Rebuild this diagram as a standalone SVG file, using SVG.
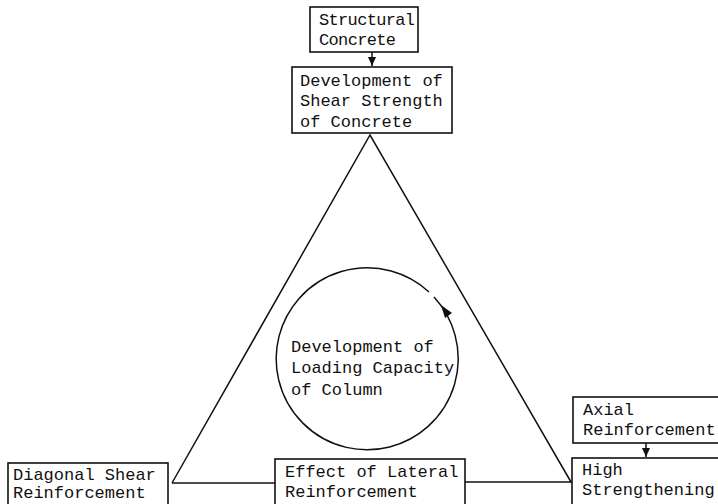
<svg xmlns="http://www.w3.org/2000/svg" width="718" height="504" viewBox="0 0 718 504">
<style>
.box{fill:#fff;stroke:#111;stroke-width:1.6}
.t{font-family:"Liberation Mono","Courier New",monospace;font-size:17px;fill:#111}
.ln{fill:none;stroke:#111;stroke-width:1.5}
</style>
<defs>
<marker id="ah" markerWidth="10" markerHeight="10" refX="9" refY="5" orient="auto" markerUnits="userSpaceOnUse">
<path d="M0,1 L9,5 L0,9 Z" fill="#111"/>
</marker>
</defs>
<rect width="718" height="504" fill="#fff"/>
<g id="connectors">
<path class="ln" d="M172,483 L370,135 L571,482"/>
<path class="ln" d="M172,483 L275,483"/>
<path class="ln" d="M465,482 L572,482"/>
<path class="ln" d="M372,52 L372,66" marker-end="url(#ah)"/>
<path class="ln" d="M646,443 L646,457" marker-end="url(#ah)"/>
</g>
<g id="cycle">
<path class="ln" d="M429,292 A91,91 0 1 0 434,297"/>
<polygon points="441,305 452,313 445,318" fill="#111"/>
<text class="t" x="291" y="352">Development of</text>
<text class="t" x="291" y="373">Loading Capacity</text>
<text class="t" x="291" y="395">of Column</text>
</g>
<g id="structural">
<rect class="box" x="310" y="7" width="108" height="45"/>
<text class="t" x="319" y="25" textLength="96">Structural</text>
<text class="t" x="319" y="45" textLength="77">Concrete</text>
</g>
<g id="shear">
<rect class="box" x="292" y="67" width="160" height="66"/>
<text class="t" x="300" y="86">Development of</text>
<text class="t" x="300" y="106">Shear Strength</text>
<text class="t" x="300" y="127">of Concrete</text>
</g>
<g id="diagonal">
<rect class="box" x="8" y="463" width="160" height="50"/>
<text class="t" x="13" y="480">Diagonal Shear</text>
<text class="t" x="13" y="498">Reinforcement</text>
</g>
<g id="lateral">
<rect class="box" x="275" y="459" width="190" height="54"/>
<text class="t" x="285" y="477">Effect of Lateral</text>
<text class="t" x="285" y="497">Reinforcement</text>
</g>
<g id="axial">
<rect class="box" x="573" y="397" width="150" height="46"/>
<text class="t" x="583" y="415">Axial</text>
<text class="t" x="583" y="435">Reinforcement</text>
</g>
<g id="high">
<rect class="box" x="572" y="458" width="150" height="55"/>
<text class="t" x="582" y="475">High</text>
<text class="t" x="582" y="495">Strengthening</text>
</g>
</svg>
